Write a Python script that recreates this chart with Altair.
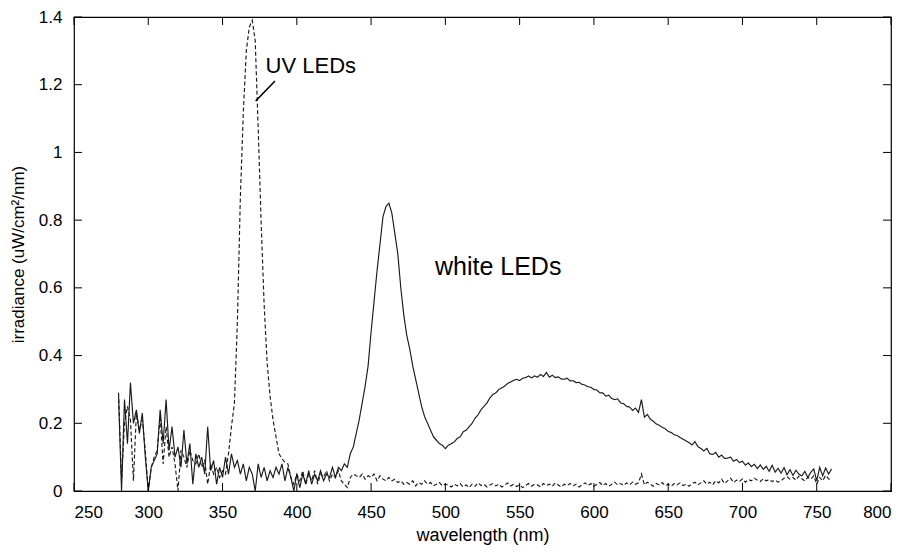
import altair as alt
import pandas as pd

# wavelength grid (nm), 2 nm steps
wl = list(range(280, 762, 2))

white_leds = [
    0.28, 0.00, 0.27, 0.14, 0.32, 0.20, 0.24, 0.17, 0.23, 0.10,   # 280-298
    0.00, 0.07, 0.09, 0.11, 0.24, 0.14, 0.27, 0.12, 0.19, 0.10,   # 300-318
    0.13, 0.07, 0.18, 0.08, 0.14, 0.02, 0.11, 0.07, 0.10, 0.05,   # 320-338
    0.19, 0.06, 0.09, 0.02, 0.07, 0.04, 0.10, 0.05, 0.11, 0.07,   # 340-358
    0.09, 0.05, 0.08, 0.03, 0.07, 0.05, 0.00, 0.08, 0.04, 0.07,   # 360-378
    0.03, 0.06, 0.04, 0.07, 0.05, 0.08, 0.03, 0.07, 0.04, 0.00,   # 380-398
    0.05, 0.01, 0.05, 0.02, 0.06, 0.02, 0.05, 0.03, 0.06, 0.03,   # 400-418
    0.05, 0.04, 0.07, 0.04, 0.07, 0.06, 0.08, 0.07, 0.11, 0.13,   # 420-438
    0.17, 0.21, 0.26, 0.31, 0.37, 0.47, 0.56, 0.65, 0.73, 0.81,   # 440-458
    0.84, 0.85, 0.82, 0.76, 0.70, 0.60, 0.52, 0.46, 0.42, 0.37,   # 460-478
    0.33, 0.29, 0.25, 0.22, 0.20, 0.18, 0.16, 0.15, 0.14, 0.135,  # 480-498
    0.125, 0.135, 0.14, 0.145, 0.155, 0.16, 0.175, 0.18, 0.19, 0.20,  # 500-518
    0.215, 0.225, 0.24, 0.25, 0.26, 0.275, 0.285, 0.29, 0.30, 0.305,  # 520-538
    0.31, 0.318, 0.322, 0.327, 0.33, 0.326, 0.333, 0.335, 0.340, 0.334,  # 540-558
    0.34, 0.336, 0.344, 0.338, 0.350, 0.336, 0.342, 0.335, 0.337, 0.331,  # 560-578
    0.33, 0.333, 0.325, 0.326, 0.320, 0.321, 0.315, 0.313, 0.308, 0.306,  # 580-598
    0.30, 0.298, 0.29, 0.290, 0.28, 0.283, 0.273, 0.27, 0.272, 0.260,  # 600-618
    0.258, 0.250, 0.248, 0.238, 0.245, 0.232, 0.27, 0.218, 0.226, 0.212,  # 620-638
    0.206, 0.198, 0.194, 0.188, 0.184, 0.176, 0.173, 0.166, 0.164, 0.158,  # 640-658
    0.153, 0.148, 0.143, 0.136, 0.146, 0.131, 0.126, 0.118, 0.126, 0.110,  # 660-678
    0.108, 0.114, 0.10, 0.106, 0.096, 0.097, 0.10, 0.088, 0.093, 0.084,  # 680-698
    0.088, 0.076, 0.083, 0.072, 0.079, 0.066, 0.077, 0.064, 0.073, 0.058,  # 700-718
    0.076, 0.056, 0.067, 0.053, 0.069, 0.048, 0.063, 0.046, 0.061, 0.050,  # 720-738
    0.045, 0.058, 0.04, 0.055, 0.065, 0.03, 0.07, 0.045, 0.068, 0.05,  # 740-758
    0.065,  # 760
]

uv_leds = [
    0.29, 0.03, 0.20, 0.25, 0.21, 0.03, 0.23, 0.18, 0.21, 0.12,   # 280-298
    0.00, 0.07, 0.10, 0.12, 0.22, 0.08, 0.19, 0.10, 0.13, 0.08,   # 300-318
    0.00, 0.12, 0.10, 0.07, 0.12, 0.09, 0.08, 0.11, 0.07, 0.09,   # 320-338
    0.02, 0.08, 0.05, 0.07, 0.04, 0.06, 0.05, 0.11, 0.19, 0.26,   # 340-358
    0.50, 0.87, 1.12, 1.30, 1.37, 1.39, 1.33, 1.07, 0.79, 0.55,   # 360-378
    0.38, 0.28, 0.21, 0.16, 0.11, 0.095, 0.085, 0.08, 0.04, 0.02,  # 380-398
    0.05, 0.03, 0.06, 0.02, 0.05, 0.03, 0.06, 0.02, 0.05, 0.04,   # 400-418
    0.06, 0.03, 0.05, 0.04, 0.06, 0.03, 0.02, 0.01, 0.04, 0.05,   # 420-438
    0.045, 0.04, 0.05, 0.035, 0.045, 0.04, 0.05, 0.03, 0.045, 0.035,  # 440-458
    0.03, 0.04, 0.03, 0.035, 0.025, 0.03, 0.02, 0.025, 0.02, 0.03,  # 460-478
    0.015, 0.025, 0.02, 0.03, 0.02, 0.025, 0.015, 0.02, 0.025, 0.015,  # 480-498
    0.02, 0.018, 0.012, 0.02, 0.015, 0.022, 0.012, 0.018, 0.01, 0.02,  # 500-518
    0.014, 0.024, 0.016, 0.02, 0.012, 0.018, 0.022, 0.015, 0.02, 0.012,  # 520-538
    0.018, 0.024, 0.015, 0.02, 0.013, 0.018, 0.01, 0.016, 0.022, 0.014,  # 540-558
    0.02, 0.018, 0.012, 0.022, 0.016, 0.02, 0.014, 0.024, 0.018, 0.012,  # 560-578
    0.02, 0.016, 0.022, 0.015, 0.02, 0.012, 0.018, 0.024, 0.016, 0.022,  # 580-598
    0.014, 0.02, 0.025, 0.016, 0.022, 0.014, 0.02, 0.026, 0.018, 0.022,  # 600-618
    0.016, 0.024, 0.018, 0.026, 0.02, 0.024, 0.05, 0.018, 0.026, 0.02,  # 620-638
    0.014, 0.022, 0.018, 0.025, 0.016, 0.02, 0.014, 0.022, 0.018, 0.024,  # 640-658
    0.016, 0.02, 0.014, 0.022, 0.026, 0.018, 0.024, 0.03, 0.02, 0.026,  # 660-678
    0.018, 0.03, 0.024, 0.035, 0.022, 0.03, 0.038, 0.025, 0.032, 0.028,  # 680-698
    0.036, 0.026, 0.034, 0.03, 0.038, 0.032, 0.028, 0.036, 0.03, 0.034,  # 700-718
    0.028, 0.032, 0.026, 0.03, 0.038, 0.042, 0.035, 0.04, 0.032, 0.044,  # 720-738
    0.036, 0.03, 0.04, 0.035, 0.045, 0.02, 0.04, 0.03, 0.046, 0.036,  # 740-758
    0.03,  # 760
]

x_ticks = [250, 300, 350, 400, 450, 500, 550, 600, 650, 700, 750, 800]
y_ticks = [0, 0.2, 0.4, 0.6, 0.8, 1.0, 1.2, 1.4]

label_text = ["UV LEDs", "white LEDs"]
label_x = [379.0, 493.0]
label_y = [1.254, 0.661]
label_size = [22, 25]

leader_x = [372.3]
leader_y = [1.152]
leader_x2 = [385.3]
leader_y2 = [1.211]

assert len(white_leds) == len(wl) and len(uv_leds) == len(wl)

W, H = 817, 474
FONT = "Liberation Sans"

xscale = alt.Scale(domain=[250, 800], nice=False, zero=False)
yscale = alt.Scale(domain=[0, 1.4], nice=False, zero=True)
xaxis = alt.Axis(values=x_ticks, title="wavelength (nm)", labelFontSize=17,
                 labelPadding=13, titleFontSize=18, titleFontWeight="normal",
                 titleY=35, titleBaseline="top", titleColor="black", labelColor="black")
yaxis = alt.Axis(values=y_ticks, format="~g", title="irradiance (uW/cm²/nm)",
                 labelFontSize=17, labelPadding=12, titleFontSize=17,
                 titleFontWeight="normal", titleX=-56, titleY=H / 2,
                 titleBaseline="middle", titleColor="black", labelColor="black")


def X(f):
    return alt.X(f, type="quantitative", scale=xscale, axis=xaxis)


def Y(f):
    return alt.Y(f, type="quantitative", scale=yscale, axis=yaxis)


n = len(wl)
df = pd.DataFrame({
    "x": wl + wl,
    "y": white_leds + uv_leds,
    "series": ["white LEDs"] * n + ["UV LEDs"] * n,
})

lines = alt.Chart(df).mark_line(strokeWidth=1.15, color="#1a1a1a").encode(
    x=X("x"),
    y=Y("y"),
    strokeDash=alt.StrokeDash("series:N", scale=alt.Scale(domain=["white LEDs", "UV LEDs"],
                                                           range=[[1, 0], [4, 2.5]]), legend=None),
)

xt = pd.DataFrame({"x": x_ticks})
yt = pd.DataFrame({"y": y_ticks})
TL = 8
tick_style = dict(color="black", strokeWidth=1)
tb = alt.Chart(xt).mark_rule(**tick_style).encode(x=X("x"), y=alt.value(H), y2=alt.value(H - TL))
tt = alt.Chart(xt).mark_rule(**tick_style).encode(x=X("x"), y=alt.value(0), y2=alt.value(TL))
tl = alt.Chart(yt).mark_rule(**tick_style).encode(y=Y("y"), x=alt.value(0), x2=alt.value(TL))
tr = alt.Chart(yt).mark_rule(**tick_style).encode(y=Y("y"), x=alt.value(W - TL), x2=alt.value(W))

labels_df = pd.DataFrame({"t": label_text, "x": label_x, "y": label_y, "s": label_size})
labels = alt.Chart(labels_df).mark_text(align="left", baseline="middle", font=FONT,
                                        color="black").encode(
    x=X("x"), y=Y("y"), text="t:N", size=alt.Size("s:Q", scale=None, legend=None))

leader_df = pd.DataFrame({"x": leader_x, "y": leader_y, "x2": leader_x2, "y2": leader_y2})
leader = alt.Chart(leader_df).mark_rule(color="black", strokeWidth=1.6).encode(
    x=X("x"), y=Y("y"), x2="x2:Q", y2="y2:Q")

chart = alt.layer(lines, tb, tt, tl, tr, leader, labels).properties(
    width=W, height=H,
    autosize=alt.AutoSizeParams(type="none"),
    padding={"left": 66, "top": 9, "right": 10, "bottom": 55},
    background="white",
).configure_view(stroke="black", strokeWidth=1.2).configure_axis(
    domain=False, grid=False, ticks=False, tickSize=0, labelFont=FONT, titleFont=FONT,
)

chart.save("out.html", embed_options={"renderer": "svg", "actions": False})
